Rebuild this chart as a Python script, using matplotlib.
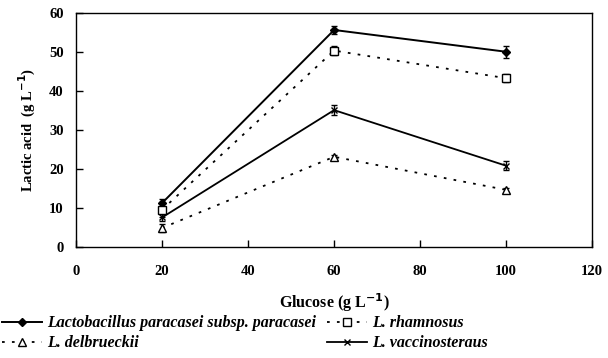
import matplotlib.pyplot as plt
from matplotlib.lines import Line2D

plt.rcParams['font.family'] = ['Liberation Serif', 'DejaVu Serif']
plt.rcParams['font.weight'] = 'bold'
plt.rcParams['mathtext.fontset'] = 'custom'
plt.rcParams['mathtext.rm'] = 'Liberation Serif:bold'

glucose = [20, 60, 100]

paracasei = [11.2, 55.7, 50.1]
paracasei_err = [1.0, 1.0, 1.5]
rhamnosus = [9.5, 50.4, 43.3]
rhamnosus_err = [2.0, 1.2, 1.0]
delbrueckii = [4.8, 23.1, 14.6]
delbrueckii_err = [1.0, 0.5, 0.6]
vaccinosteraus = [7.5, 35.1, 20.8]
vaccinosteraus_err = [1.0, 1.2, 1.2]

fig = plt.figure(figsize=(6.08, 3.58), dpi=100)
ax = fig.add_axes([0.125, 0.311, 0.849, 0.652])

dot = (0, (1.5, 4))
common = dict(color='black', ecolor='black', elinewidth=1.0, capsize=2.5, capthick=1.0)

styles = [
    dict(marker='D', markersize=4.5, markerfacecolor='black', linewidth=1.4, linestyle='-'),
    dict(marker='s', markersize=6, markerfacecolor='white', linewidth=1.3, linestyle=dot),
    dict(marker='^', markersize=5.5, markerfacecolor='white', linewidth=1.3, linestyle=dot),
    dict(marker='x', markersize=5, linewidth=1.3, linestyle='-'),
]
series = [(paracasei, paracasei_err), (rhamnosus, rhamnosus_err),
          (delbrueckii, delbrueckii_err), (vaccinosteraus, vaccinosteraus_err)]

for (vals, err), st in zip(series, styles):
    ax.errorbar(glucose, vals, yerr=err, **st, **common)

ax.set_xlim(0, 120)
ax.set_ylim(0, 60)
ax.set_xticks(range(0, 121, 20))
ax.set_yticks(range(0, 61, 10))
ax.tick_params(axis='x', direction='in', length=5, width=1, labelsize=10.5, pad=13)
ax.tick_params(axis='y', direction='in', length=5, width=1, labelsize=10.5, pad=9)
for sp in ax.spines.values():
    sp.set_linewidth(1.0)
for lab in ax.get_xticklabels() + ax.get_yticklabels():
    lab.set_fontweight('bold')

ax.set_xlabel(r'Glucose (g L$^{\mathbf{-1}}$)', fontsize=11.5, fontweight='bold', labelpad=10)
ax.set_ylabel(r'Lactic acid  (g L$^{\mathbf{-1}}$)', fontsize=10.5, fontweight='bold', labelpad=8)

# legend handles without the error bars
h = [Line2D([], [], color='black', markeredgecolor='black', **st) for st in styles]
handles = [h[0], h[2], h[1], h[3]]
labels = ['Lactobacillus paracasei subsp. paracasei', 'L. delbrueckii',
          'L. rhamnosus', 'L. vaccinosteraus']
fig.legend(handles, labels, ncol=2, loc='lower left', bbox_to_anchor=(-0.012, -0.008),
           frameon=False, prop={'style': 'italic', 'weight': 'bold', 'size': 11.5},
           handlelength=2.5, handletextpad=0.3, columnspacing=0.7, labelspacing=0.25,
           borderaxespad=0.2)

fig.savefig('out.png', dpi=100)
